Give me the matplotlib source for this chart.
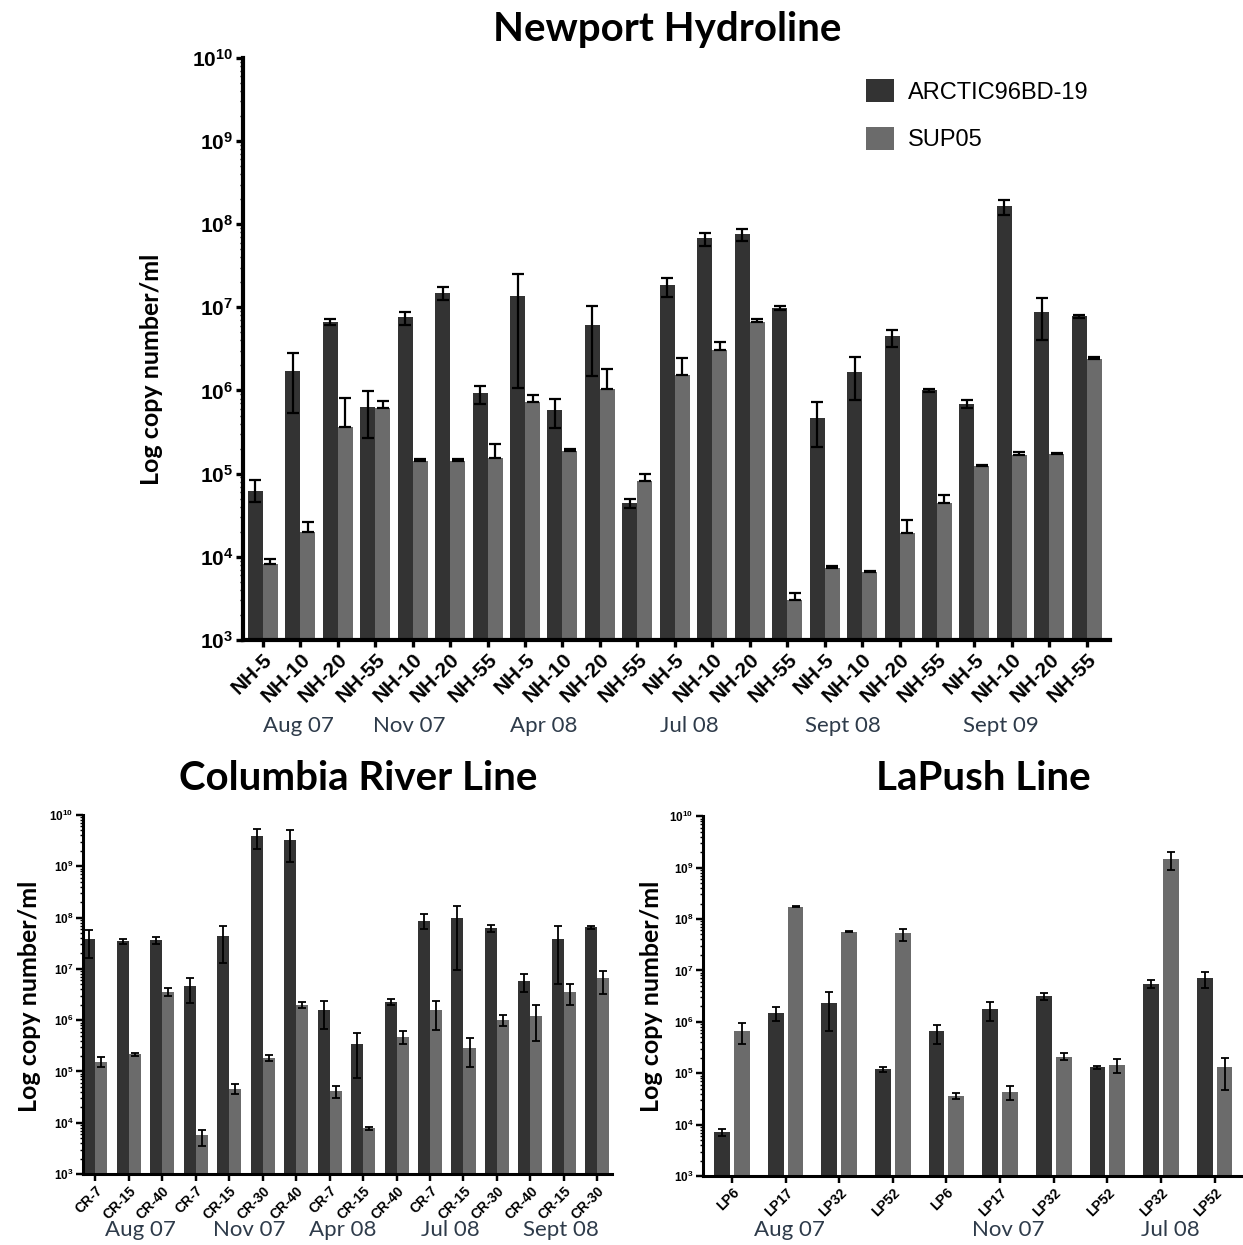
import matplotlib
matplotlib.use("Agg")
import matplotlib.pyplot as plt
import matplotlib.transforms as mtransforms
from matplotlib.ticker import FixedLocator, LogLocator, FuncFormatter, NullFormatter
import numpy as np

plt.rcParams['mathtext.fontset'] = 'custom'
plt.rcParams['mathtext.rm'] = 'Liberation Sans'
plt.rcParams['mathtext.bf'] = 'Liberation Sans:bold'

# ---------------- data ----------------
series_names = ['ARCTIC96BD-19', 'SUP05']

nh_categories = ['NH-5', 'NH-10', 'NH-20', 'NH-55', 'NH-10', 'NH-20', 'NH-55',
                 'NH-5', 'NH-10', 'NH-20', 'NH-55', 'NH-5', 'NH-10', 'NH-20', 'NH-55',
                 'NH-5', 'NH-10', 'NH-20', 'NH-55', 'NH-5', 'NH-10', 'NH-20', 'NH-55']
nh_arctic = [6.2e4, 1.7e6, 6.6e6, 6.4e5, 7.6e6, 1.48e7, 9.4e5, 1.36e7, 5.9e5, 6.1e6, 4.4e4,
             1.85e7, 6.8e7, 7.7e7, 9.8e6, 4.7e5, 1.68e6, 4.5e6, 1.0e6, 6.9e5, 1.65e8, 8.9e6, 7.8e6]
nh_arctic_hi = [8.5e4, 2.8e6, 7.2e6, 9.8e5, 8.8e6, 1.74e7, 1.12e6, 2.5e7, 8.0e5, 1.05e7, 4.9e4,
                2.25e7, 7.8e7, 8.7e7, 1.03e7, 7.2e5, 2.5e6, 5.4e6, 1.03e6, 7.7e5, 1.95e8, 1.3e7, 8.2e6]
nh_arctic_lo = [4.5e4, 5.3e5, 6.1e6, 2.7e5, 6.1e6, 1.24e7, 6.9e5, 1.07e6, 3.5e5, 1.5e6, 3.9e4,
                1.35e7, 5.5e7, 6.3e7, 9.3e6, 2.1e5, 7.6e5, 3.3e6, 0.97e6, 6.1e5, 1.28e8, 4.1e6, 7.4e6]
nh_sup05 = [8.1e3, 2.0e4, 3.6e5, 6.2e5, 1.4e5, 1.4e5, 1.55e5, 7.2e5, 1.86e5, 1.05e6, 8.2e4,
            1.55e6, 3.1e6, 6.6e6, 3.0e3, 7.4e3, 6.5e3, 1.95e4, 4.4e4, 1.23e5, 1.66e5, 1.72e5, 2.4e6]
nh_sup05_hi = [9.3e3, 2.6e4, 8.2e5, 7.4e5, 1.5e5, 1.48e5, 2.3e5, 8.9e5, 2.0e5, 1.8e6, 9.8e4,
               2.45e6, 3.8e6, 7.2e6, 3.7e3, 7.8e3, 6.8e3, 2.8e4, 5.5e4, 1.27e5, 1.8e5, 1.76e5, 2.5e6]
nh_months = ['Aug 07', 'Nov 07', 'Apr 08', 'Jul 08', 'Sept 08', 'Sept 09']

cr_categories = ['CR-7', 'CR-15', 'CR-40', 'CR-7', 'CR-15', 'CR-30', 'CR-40', 'CR-7',
                 'CR-15', 'CR-40', 'CR-7', 'CR-15', 'CR-30', 'CR-40', 'CR-15', 'CR-30']
cr_arctic = [3.8e7, 3.5e7, 3.6e7, 4.6e6, 4.4e7, 3.9e9, 3.3e9, 1.6e6,
             3.4e5, 2.3e6, 8.5e7, 9.6e7, 6.2e7, 5.9e6, 3.9e7, 6.5e7]
cr_arctic_hi = [5.6e7, 3.9e7, 4.1e7, 6.6e6, 7.0e7, 5.4e9, 5.1e9, 2.4e6,
                5.6e5, 2.6e6, 1.15e8, 1.7e8, 7.3e7, 8.1e6, 7.0e7, 7.0e7]
cr_arctic_lo = [1.6e7, 3.1e7, 3.1e7, 2.2e6, 1.3e7, 2.2e9, 1.2e9, 6.7e5,
                7.6e4, 2.0e6, 5.9e7, 9.5e6, 5.3e7, 3.5e6, 5.0e6, 6.0e7]
cr_sup05 = [1.53e5, 2.16e5, 3.6e6, 5.8e3, 4.5e4, 1.83e5, 2.0e6, 4.1e4,
            7.8e3, 4.8e5, 1.6e6, 2.9e5, 1.0e6, 1.23e6, 3.6e6, 6.5e6]
cr_sup05_hi = [1.9e5, 2.3e5, 4.3e6, 7.3e3, 5.7e4, 2.1e5, 2.3e6, 5.2e4,
               8.3e3, 6.2e5, 2.4e6, 4.4e5, 1.25e6, 2.0e6, 5.0e6, 9.1e6]
cr_sup05_lo = [1.2e5, 2.0e5, 2.9e6, 3.5e3, 3.6e4, 1.6e5, 1.7e6, 3.1e4,
               7.3e3, 3.5e5, 6.4e5, 1.23e5, 7.8e5, 3.9e5, 2.0e6, 3.3e6]
cr_months = ['Aug 07', 'Nov 07', 'Apr 08', 'Jul 08', 'Sept 08']

lp_categories = ['LP6', 'LP17', 'LP32', 'LP52', 'LP6', 'LP17', 'LP32', 'LP52', 'LP32', 'LP52']
lp_arctic = [7.2e3, 1.5e6, 2.35e6, 1.2e5, 6.5e5, 1.75e6, 3.2e6, 1.3e5, 5.5e6, 7.2e6]
lp_arctic_hi = [8.3e3, 1.95e6, 3.85e6, 1.35e5, 8.7e5, 2.45e6, 3.7e6, 1.4e5, 6.6e6, 9.2e6]
lp_arctic_lo = [5.9e3, 1.05e6, 6.7e5, 1.05e5, 3.7e5, 1.05e6, 2.7e6, 1.2e5, 4.5e6, 4.5e6]
lp_sup05 = [6.7e5, 1.75e8, 5.7e7, 5.3e7, 3.6e4, 4.4e4, 2.1e5, 1.45e5, 1.46e9, 1.3e5]
lp_sup05_hi = [9.7e5, 1.8e8, 5.9e7, 6.5e7, 4.2e4, 5.6e4, 2.5e5, 1.85e5, 2.0e9, 2.0e5]
lp_sup05_lo = [3.7e5, 1.7e8, 5.5e7, 3.7e7, 3.1e4, 3.0e4, 1.8e5, 1.0e5, 8.9e8, 4.7e4]
lp_months = ['Aug 07', 'Nov 07', 'Jul 08']

# ---------------- style ----------------
DARK = '#333333'
LIGHT = '#6b6b6b'
MONTH_COLOR = '#2e3b4a'
TITLE_FONT = 'Lato'

fig = plt.figure(figsize=(12.43, 12.45), dpi=100)


def yfmt(v, pos):
    e = int(round(np.log10(v)))
    return r'$\mathbf{10^{%d}}$' % e


def panel(rect, cats, a, a_hi, a_lo, s, s_hi, s_lo, width, offset, xlim,
          tick_fs, ytick_fs, spine_w, err_lw, capsize):
    ax = fig.add_axes(rect)
    x = np.arange(len(cats))
    a = np.array(a); s = np.array(s)
    ax.bar(x - offset, a, width=width, color=DARK, zorder=2,
           label=series_names[0], log=True)
    ax.bar(x + offset, s, width=width, color=LIGHT, zorder=2,
           label=series_names[1], log=True)
    ax.errorbar(x - offset, a, yerr=[a - np.array(a_lo), np.array(a_hi) - a],
                fmt='none', ecolor='black', elinewidth=err_lw, capsize=capsize,
                capthick=err_lw, zorder=3)
    if s_lo is None:
        s_err = [np.zeros_like(s), np.array(s_hi) - s]
    else:
        s_err = [s - np.array(s_lo), np.array(s_hi) - s]
    ax.errorbar(x + offset, s, yerr=s_err, fmt='none', ecolor='black',
                elinewidth=err_lw, capsize=capsize, capthick=err_lw, zorder=3)
    ax.set_yscale('log')
    ax.set_ylim(1e3, 1e10)
    ax.set_xlim(*xlim)
    ax.yaxis.set_major_locator(FixedLocator([10.0 ** k for k in range(3, 11)]))
    ax.yaxis.set_major_formatter(FuncFormatter(yfmt))
    ax.yaxis.set_minor_locator(LogLocator(base=10, subs=np.arange(2, 10), numticks=20))
    ax.yaxis.set_minor_formatter(NullFormatter())
    ax.set_xticks(x)
    ax.set_xticklabels(cats, rotation=45, ha='right', rotation_mode='anchor',
                       fontsize=tick_fs, fontweight='bold', family='Liberation Sans')
    for lab in ax.get_yticklabels():
        lab.set_fontsize(ytick_fs)
    for sp in ['top', 'right']:
        ax.spines[sp].set_visible(False)
    for sp in ['left', 'bottom']:
        ax.spines[sp].set_linewidth(spine_w)
    ax.tick_params(axis='both', which='major', width=spine_w * 0.8, length=5,
                   direction='out', pad=2)
    ax.tick_params(axis='y', which='minor', width=1.0, length=2.5)
    ax.tick_params(axis='x', which='minor', bottom=False)
    return ax


# ---------- top panel: Newport Hydroline ----------
ax1 = panel([0.1955, 0.486, 0.6975, 0.4675], nh_categories,
            nh_arctic, nh_arctic_hi, nh_arctic_lo, nh_sup05, nh_sup05_hi, None,
            width=0.4, offset=0.2, xlim=(-0.53, 22.62),
            tick_fs=15, ytick_fs=15, spine_w=3.0, err_lw=1.6, capsize=4)
fig.text(0.537, 0.976, 'Newport Hydroline', ha='center', va='center',
         fontsize=29, fontweight='bold', family=TITLE_FONT)
fig.text(0.122, 0.703, 'Log copy number/ml', ha='center', va='center',
         rotation=90, fontsize=18, fontweight='bold', family=TITLE_FONT)
trans1 = mtransforms.blended_transform_factory(ax1.transData, fig.transFigure)
for name, xp in zip(nh_months, [0.96, 3.9, 7.5, 11.4, 15.5, 19.7]):
    fig.text(xp, 0.417, name, transform=trans1, ha='center', va='center',
             fontsize=16, color=MONTH_COLOR, family=TITLE_FONT)
leg = ax1.legend(loc='upper right', bbox_to_anchor=(1.0, 1.0), frameon=False,
                 prop={'family': 'Liberation Sans', 'size': 17},
                 handlelength=1.2, handleheight=1.1, labelspacing=1.0,
                 handletextpad=0.6)

# ---------- bottom left: Columbia River Line ----------
ax2 = panel([0.0668, 0.057, 0.4256, 0.2884], cr_categories,
            cr_arctic, cr_arctic_hi, cr_arctic_lo, cr_sup05, cr_sup05_hi, cr_sup05_lo,
            width=0.36, offset=0.18, xlim=(-0.37, 15.44),
            tick_fs=10, ytick_fs=8.5, spine_w=2.2, err_lw=1.3, capsize=3)
fig.text(0.288, 0.375, 'Columbia River Line', ha='center', va='center',
         fontsize=29, fontweight='bold', family=TITLE_FONT)
fig.text(0.024, 0.2, 'Log copy number/ml', ha='center', va='center',
         rotation=90, fontsize=18, fontweight='bold', family=TITLE_FONT)
trans2 = mtransforms.blended_transform_factory(ax2.transData, fig.transFigure)
for name, xp in zip(cr_months, [1.36, 4.6, 7.39, 10.6, 13.9]):
    fig.text(xp, 0.012, name, transform=trans2, ha='center', va='center',
             fontsize=16, color=MONTH_COLOR, family=TITLE_FONT)

# ---------- bottom right: LaPush Line ----------
ax3 = panel([0.5656, 0.0554, 0.4344, 0.289], lp_categories,
            lp_arctic, lp_arctic_hi, lp_arctic_lo, lp_sup05, lp_sup05_hi, lp_sup05_lo,
            width=0.295, offset=0.185, xlim=(-0.54, 9.53),
            tick_fs=10, ytick_fs=8.5, spine_w=2.2, err_lw=1.3, capsize=3)
fig.text(0.791, 0.375, 'LaPush Line', ha='center', va='center',
         fontsize=29, fontweight='bold', family=TITLE_FONT)
fig.text(0.5245, 0.2, 'Log copy number/ml', ha='center', va='center',
         rotation=90, fontsize=18, fontweight='bold', family=TITLE_FONT)
trans3 = mtransforms.blended_transform_factory(ax3.transData, fig.transFigure)
for name, xp in zip(lp_months, [1.08, 5.15, 8.17]):
    fig.text(xp, 0.012, name, transform=trans3, ha='center', va='center',
             fontsize=16, color=MONTH_COLOR, family=TITLE_FONT)

fig.savefig('out.png', dpi=100, facecolor='white')
